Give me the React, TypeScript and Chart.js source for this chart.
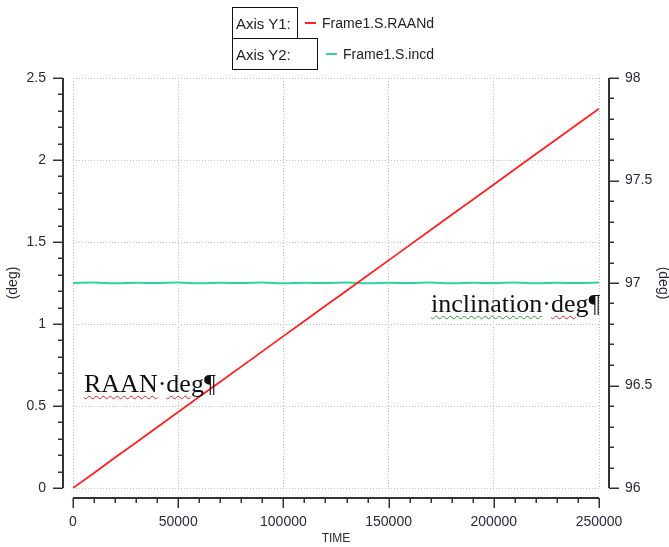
import React, { useEffect, useRef } from "react";
import { Chart, registerables } from "chart.js";

Chart.register(...registerables);

// ---- data ----
const timeValues = [
  0, 10000, 20000, 30000, 40000, 50000, 60000, 70000, 80000, 90000, 100000,
  110000, 120000, 130000, 140000, 150000, 160000, 170000, 180000, 190000,
  200000, 210000, 220000, 230000, 240000, 250000,
];
const raanValues = [
  0.0, 0.092, 0.186, 0.278, 0.37, 0.463, 0.556, 0.648, 0.74, 0.833, 0.926,
  1.018, 1.111, 1.203, 1.296, 1.388, 1.481, 1.573, 1.666, 1.758, 1.851, 1.943,
  2.036, 2.128, 2.221, 2.313,
];
const incValues = [
  97.0, 97.002, 96.999, 97.001, 97.0, 97.002, 96.999, 97.001, 97.0, 97.002,
  96.999, 97.001, 97.0, 97.002, 96.999, 97.001, 97.0, 97.002, 96.999, 97.001,
  97.0, 97.002, 96.999, 97.001, 97.0, 97.002,
];
const xTicks = [0, 50000, 100000, 150000, 200000, 250000];
const y1Ticks = [0, 0.5, 1, 1.5, 2, 2.5];
const y2Ticks = [96, 96.5, 97, 97.5, 98];
const y1Label = "(deg)";
const y2Label = "(deg)";
const xLabel = "TIME";
const legendY1 = "Axis Y1:";
const legendY2 = "Axis Y2:";
const seriesNames = ["Frame1.S.RAANd", "Frame1.S.incd"];

const RED = "#ff1f1f";
const GREEN = "#2fd39f";
const TEXT = "#2a2a3a";
const SANS = "'Liberation Sans', Arial, sans-serif";

const offsetAxesPlugin = {
  id: "offsetAxes",
  afterDraw(chart: any) {
    const { ctx, chartArea, scales } = chart;
    const xs = scales.x;
    const ys = scales.y;
    const y2s = scales.y2;
    ctx.save();
    ctx.strokeStyle = "#333333";
    ctx.lineCap = "butt";

    const subdivide = (ticks: number[]) => {
      const out: { v: number; major: boolean }[] = [];
      for (let i = 0; i < ticks.length; i++) {
        out.push({ v: ticks[i], major: true });
        if (i < ticks.length - 1) {
          const step = (ticks[i + 1] - ticks[i]) / 5;
          for (let k = 1; k < 5; k++) out.push({ v: ticks[i] + step * k, major: false });
        }
      }
      return out;
    };

    // left axis
    const lx = chartArea.left - 10;
    ctx.lineWidth = 2;
    ctx.beginPath();
    ctx.moveTo(lx, ys.getPixelForValue(y1Ticks[y1Ticks.length - 1]));
    ctx.lineTo(lx, ys.getPixelForValue(y1Ticks[0]));
    ctx.stroke();
    ctx.lineWidth = 1.5;
    subdivide(y1Ticks).forEach((t) => {
      const py = Math.round(ys.getPixelForValue(t.v)) + 0.25;
      ctx.beginPath();
      ctx.moveTo(lx - (t.major ? 10 : 5), py);
      ctx.lineTo(lx, py);
      ctx.stroke();
    });

    // right axis
    const rx = chartArea.right + 10;
    ctx.lineWidth = 2;
    ctx.beginPath();
    ctx.moveTo(rx, y2s.getPixelForValue(y2Ticks[y2Ticks.length - 1]));
    ctx.lineTo(rx, y2s.getPixelForValue(y2Ticks[0]));
    ctx.stroke();
    ctx.lineWidth = 1.5;
    subdivide(y2Ticks).forEach((t) => {
      const py = Math.round(y2s.getPixelForValue(t.v)) + 0.25;
      ctx.beginPath();
      ctx.moveTo(rx, py);
      ctx.lineTo(rx + (t.major ? 10 : 5), py);
      ctx.stroke();
    });

    // bottom axis
    const by = chartArea.bottom + 10;
    ctx.lineWidth = 2;
    ctx.beginPath();
    ctx.moveTo(xs.getPixelForValue(xTicks[0]), by);
    ctx.lineTo(xs.getPixelForValue(xTicks[xTicks.length - 1]), by);
    ctx.stroke();
    ctx.lineWidth = 1.5;
    subdivide(xTicks).forEach((t) => {
      const px = Math.round(xs.getPixelForValue(t.v)) + 0.25;
      ctx.beginPath();
      ctx.moveTo(px, by);
      ctx.lineTo(px, by + (t.major ? 10 : 5));
      ctx.stroke();
    });
    ctx.restore();
  },
};

export default function App() {
  const canvasRef = useRef<HTMLCanvasElement | null>(null);

  useEffect(() => {
    const canvas = canvasRef.current;
    if (!canvas) return;
    const chart = new Chart(canvas, {
      type: "line",
      data: {
        datasets: [
          {
            label: seriesNames[0],
            data: timeValues.map((t, i) => ({ x: t, y: raanValues[i] })),
            borderColor: RED,
            borderWidth: 1.8,
            pointRadius: 0,
            tension: 0,
            yAxisID: "y",
          },
          {
            label: seriesNames[1],
            data: timeValues.map((t, i) => ({ x: t, y: incValues[i] })),
            borderColor: GREEN,
            borderWidth: 2,
            pointRadius: 0,
            tension: 0.4,
            yAxisID: "y2",
          },
        ],
      },
      options: {
        responsive: false,
        animation: false,
        devicePixelRatio: 1,
        layout: { padding: { top: 78, left: 0, right: 0, bottom: 0 } },
        plugins: { legend: { display: false }, tooltip: { enabled: false } },
        scales: {
          x: {
            type: "linear",
            position: "bottom",
            min: xTicks[0],
            max: xTicks[xTicks.length - 1],
            afterBuildTicks: (s: any) => {
              s.ticks = xTicks.map((v) => ({ value: v }));
            },
            afterFit: (s: any) => {
              s.height = 59;
            },
            ticks: {
              color: TEXT,
              font: { family: SANS, size: 14 },
              padding: 26,
              maxRotation: 0,
              autoSkip: false,
              callback: (v: any) => String(v),
            },
            grid: { color: "#bdbdbd", lineWidth: 1, drawTicks: false },
            border: { display: false, dash: [1, 2] },
            title: {
              display: true,
              text: xLabel,
              color: TEXT,
              font: { family: SANS, size: 12 },
              padding: { top: 0, bottom: 1 },
            },
          },
          y: {
            type: "linear",
            position: "left",
            min: y1Ticks[0],
            max: y1Ticks[y1Ticks.length - 1],
            afterBuildTicks: (s: any) => {
              s.ticks = y1Ticks.map((v) => ({ value: v }));
            },
            afterFit: (s: any) => {
              s.width = 73;
            },
            ticks: {
              color: TEXT,
              font: { family: SANS, size: 14 },
              padding: 27,
              callback: (v: any) => String(v),
            },
            grid: { color: "#bdbdbd", lineWidth: 1, drawTicks: false },
            border: { display: false, dash: [1, 2] },
            title: {
              display: true,
              text: y1Label,
              color: TEXT,
              font: { family: SANS, size: 14 },
              padding: { top: 5, bottom: 0 },
            },
          },
          y2: {
            type: "linear",
            position: "right",
            min: y2Ticks[0],
            max: y2Ticks[y2Ticks.length - 1],
            afterBuildTicks: (s: any) => {
              s.ticks = y2Ticks.map((v) => ({ value: v }));
            },
            afterFit: (s: any) => {
              s.width = 70;
            },
            ticks: {
              color: TEXT,
              font: { family: SANS, size: 14 },
              padding: 26,
              callback: (v: any) => String(v),
            },
            grid: { display: false, drawTicks: false },
            border: { display: false },
            title: {
              display: true,
              text: y2Label,
              color: TEXT,
              font: { family: SANS, size: 14 },
              padding: { top: -2, bottom: 0 },
            },
          },
        },
      },
      plugins: [offsetAxesPlugin],
    } as any);
    return () => chart.destroy();
  }, []);

  const boxStyle: React.CSSProperties = {
    position: "absolute",
    border: "1.5px solid #111",
    boxSizing: "border-box",
    fontFamily: SANS,
    fontSize: 15,
    color: "#222",
    paddingLeft: 3,
    display: "flex",
    alignItems: "center",
  };
  const seriesText: React.CSSProperties = {
    position: "absolute",
    fontFamily: SANS,
    fontSize: 14,
    color: "#222",
    lineHeight: "16px",
    whiteSpace: "nowrap",
  };
  const dash = (c: string): React.CSSProperties => ({
    position: "absolute",
    width: 11,
    height: 2,
    background: c,
  });
  const serif: React.CSSProperties = {
    position: "absolute",
    fontFamily: "'Liberation Serif', 'Times New Roman', serif",
    fontSize: 26,
    lineHeight: "26px",
    color: "#111",
    whiteSpace: "nowrap",
  };
  const wavy = (c: string): React.CSSProperties => ({
    textDecorationLine: "underline",
    textDecorationStyle: "wavy",
    textDecorationColor: c,
    textDecorationThickness: "1px",
    textUnderlineOffset: "3px",
  });

  return (
    <div style={{ position: "absolute", left: 0, top: 0, width: 669, height: 547, background: "#fff" }}>
      <canvas ref={canvasRef} width={669} height={547} style={{ display: "block", width: 669, height: 547 }} />
      <div style={{ ...boxStyle, left: 232, top: 7, width: 66, height: 32 }}>{legendY1}</div>
      <div style={{ ...boxStyle, left: 232, top: 38, width: 86, height: 32 }}>{legendY2}</div>
      <div style={{ ...dash(RED), left: 305, top: 22 }} />
      <div style={{ ...seriesText, left: 322, top: 15 }}>{seriesNames[0]}</div>
      <div style={{ ...dash(GREEN), left: 326, top: 53 }} />
      <div style={{ ...seriesText, left: 343, top: 46 }}>{seriesNames[1]}</div>
      <div style={{ ...serif, left: 84, top: 371 }}>
        <span style={wavy("#e02020")}>RAAN</span>·<span style={wavy("#e02020")}>deg</span>¶
      </div>
      <div style={{ ...serif, left: 431, top: 291 }}>
        <span style={wavy("#2a9a3a")}>inclination</span>·<span style={wavy("#e02020")}>deg</span>¶
      </div>
    </div>
  );
}
